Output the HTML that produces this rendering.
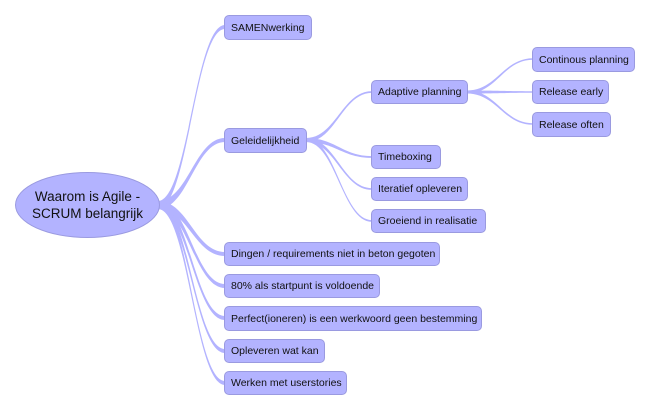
<!DOCTYPE html>
<html><head><meta charset="utf-8"><style>
html,body{margin:0;padding:0;background:#fff;width:650px;height:411px;overflow:hidden}
.n{position:absolute;box-sizing:border-box;background:#b3b3ff;border:1px solid #9a9ae0;border-radius:5px;font-family:"Liberation Sans",sans-serif;font-size:10.5px;color:#111;display:flex;align-items:center;padding-left:6px;white-space:nowrap}
.root{position:absolute;left:15px;top:172px;width:145px;height:66px;border-radius:50%;background:#b3b3ff;border:1px solid #9a9ae0;box-sizing:border-box;font-family:"Liberation Sans",sans-serif;font-size:13.5px;color:#111;text-align:center;display:flex;align-items:center;justify-content:center;line-height:17px}
svg{position:absolute;left:0;top:0}
</style></head><body>
<svg id="s" width="650" height="411"></svg>
<div class="root">Waarom is Agile -<br>SCRUM belangrijk</div>
<div class="n" style="left:224px;top:15px;width:88px;height:25px">SAMENwerking</div>
<div class="n" style="left:224px;top:128px;width:83px;height:25px">Geleidelijkheid</div>
<div class="n" style="left:371px;top:80px;width:97px;height:24px">Adaptive planning</div>
<div class="n" style="left:532px;top:47px;width:103px;height:25px">Continous planning</div>
<div class="n" style="left:532px;top:80px;width:77px;height:24px">Release early</div>
<div class="n" style="left:532px;top:112px;width:79px;height:25px">Release often</div>
<div class="n" style="left:371px;top:145px;width:70px;height:24px">Timeboxing</div>
<div class="n" style="left:371px;top:177px;width:97px;height:24px">Iteratief opleveren</div>
<div class="n" style="left:371px;top:209px;width:115px;height:24px">Groeiend in realisatie</div>
<div class="n" style="left:224px;top:242px;width:216px;height:24px">Dingen / requirements niet in beton gegoten</div>
<div class="n" style="left:224px;top:274px;width:156px;height:24px">80% als startpunt is voldoende</div>
<div class="n" style="left:224px;top:306px;width:258px;height:25px">Perfect(ioneren) is een werkwoord geen bestemming</div>
<div class="n" style="left:224px;top:339px;width:101px;height:24px">Opleveren wat kan</div>
<div class="n" style="left:224px;top:371px;width:123px;height:24px">Werken met userstories</div>
<script>
var s=document.getElementById('s'),h='';
function c(x0,y0,x1,y1,w0,w1){
 var dx=x1-x0,a=x0+dx*0.45,b=x0+dx*0.55;
 h+='<path d="M'+x0+','+(y0-w0)+' C'+a+','+(y0-w0)+' '+b+','+(y1-w1)+' '+x1+','+(y1-w1)+' L'+x1+','+(y1+w1)+' C'+b+','+(y1+w1)+' '+a+','+(y0+w0)+' '+x0+','+(y0+w0)+'Z" fill="#b3b3ff"/>';
}
[27,140,254,286,318,351,383].forEach(function(y){c(158,205,225,y,4,2)});
[92,157,189,221].forEach(function(y){c(306,140,372,y,2,0.9)});
[59,92,124].forEach(function(y){c(467,92,533,y,1.5,0.8)});
s.innerHTML=h;
</script>
</body></html>
